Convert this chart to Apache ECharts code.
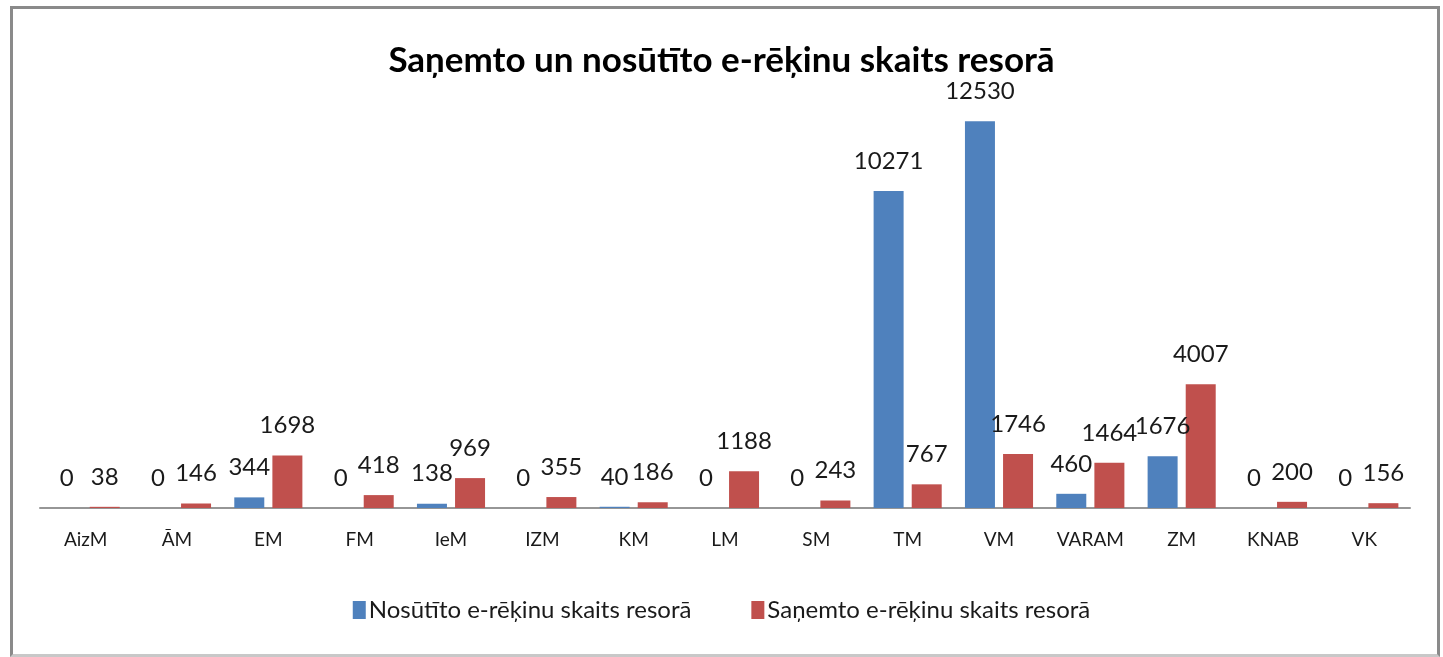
<!DOCTYPE html>
<html>
<head>
<meta charset="utf-8">
<script src="https://cdn.jsdelivr.net/npm/echarts@6/dist/echarts.min.js"></script>
<style>
  html, body { margin: 0; padding: 0; background: #fff; }
  #chart { width: 1443px; height: 657px; }
  #frame {
    position: absolute; left: 10px; top: 6px; width: 1424px; height: 645px;
    border: 3px solid #8a8a8a; border-bottom-color: #c8c8c8; pointer-events: none;
  }
</style>
</head>
<body>
<div id="chart"></div>
<div id="frame"></div>
<script>
const categories = ['AizM', 'ĀM', 'EM', 'FM', 'IeM', 'IZM', 'KM', 'LM', 'SM', 'TM', 'VM', 'VARAM', 'ZM', 'KNAB', 'VK'];
const sentValues = [0, 0, 344, 0, 138, 0, 40, 0, 0, 10271, 12530, 460, 1676, 0, 0];
const receivedValues = [38, 146, 1698, 418, 969, 355, 186, 1188, 243, 767, 1746, 1464, 4007, 200, 156];
const seriesNames = ['Nosūtīto e-rēķinu skaits resorā', 'Saņemto e-rēķinu skaits resorā'];

const chart = echarts.init(document.getElementById('chart'));

// value labels look the same for both series
const valueLabel = {
    show: true,
    position: 'top',
    distance: 18,
    color: '#1a1a1a',
    fontFamily: 'Lato',
    fontSize: 24
};

const option = {
    backgroundColor: '#fff',
    animation: false,
    title: {
        text: 'Saņemto un nosūtīto e-rēķinu skaits resorā',
        left: 'center',
        top: 38,
        textStyle: {
            color: '#000',
            fontFamily: 'Lato',
            fontWeight: 'bold',
            fontSize: 35
        }
    },
    legend: {
        bottom: 30,
        left: 'center',
        itemWidth: 13,
        itemHeight: 18,
        itemGap: 60,
        icon: 'rect',
        textStyle: {
            color: '#1a1a1a',
            fontFamily: 'Lato',
            fontSize: 24,
            padding: [0, 0, 0, -2]
        },
        data: seriesNames
    },
    grid: {
        left: 40,
        right: 33,
        top: 76,
        bottom: 149,
        containLabel: false
    },
    xAxis: {
        type: 'category',
        data: categories,
        axisLine: { lineStyle: { color: '#969696', width: 2 } },
        axisTick: { show: false },
        axisLabel: {
            color: '#1a1a1a',
            fontFamily: 'Lato',
            fontSize: 19,
            margin: 22,
            interval: 0
        }
    },
    yAxis: {
        type: 'value',
        show: false,
        min: 0,
        max: 14000
    },
    series: [
        {
            name: seriesNames[0],
            type: 'bar',
            data: sentValues,
            barWidth: 30,
            barGap: '27%',
            itemStyle: { color: '#4F81BD' },
            label: valueLabel
        },
        {
            name: seriesNames[1],
            type: 'bar',
            data: receivedValues,
            barWidth: 30,
            itemStyle: { color: '#C0504D' },
            label: valueLabel
        }
    ]
};
chart.setOption(option);
</script>
</body>
</html>
